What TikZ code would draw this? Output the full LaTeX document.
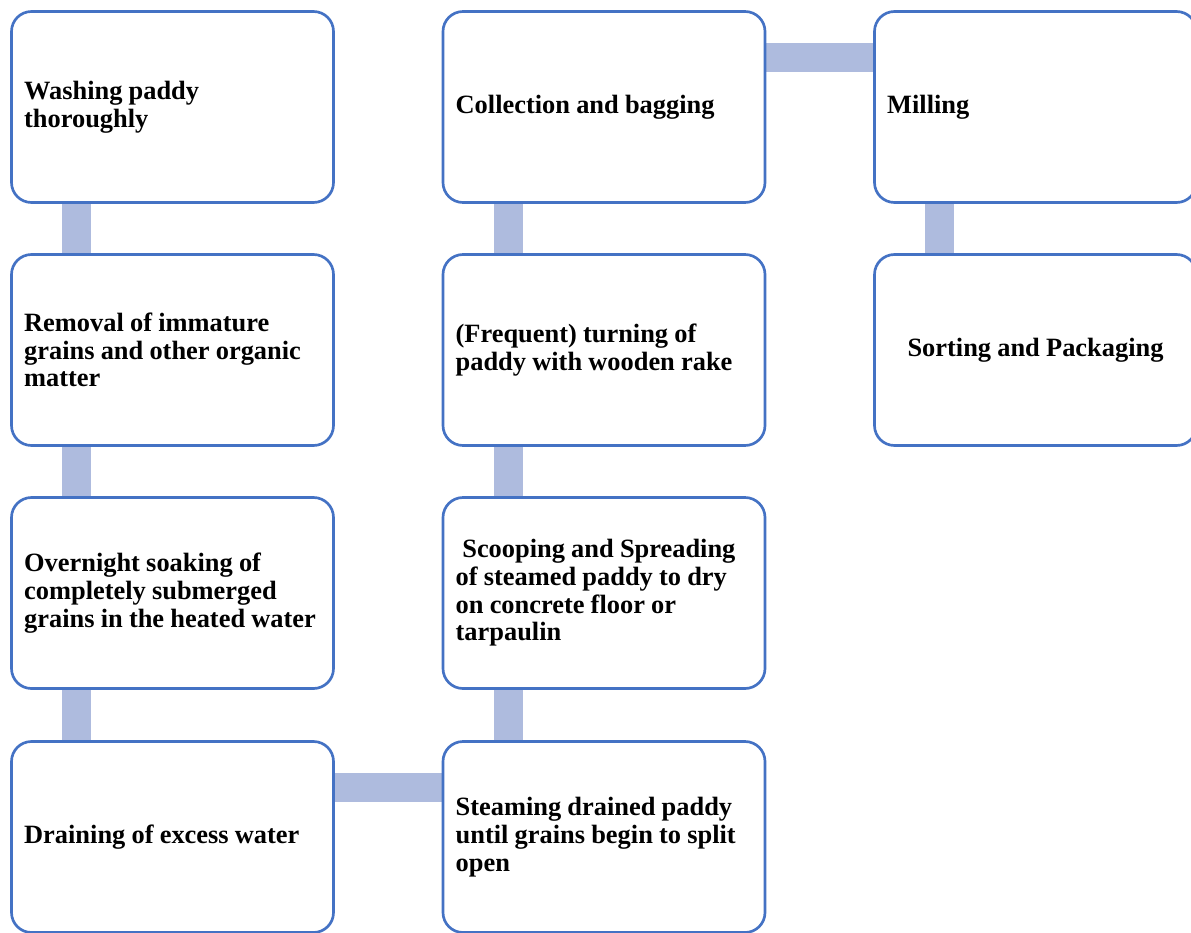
\documentclass[tikz,border=0pt]{standalone}
\usepackage{fontspec}
\setmainfont{Liberation Serif}
\usetikzlibrary{backgrounds}
\definecolor{boxline}{RGB}{68,114,196}
\definecolor{linkfill}{RGB}{174,187,222}
\hyphenpenalty=10000

\begin{document}
\begin{tikzpicture}[
    x=0.75pt, y=-0.75pt,
    stage/.style={draw=boxline, line width=2pt, fill=white, rounded corners=15pt,
                  minimum width=241.5pt, minimum height=143.25pt,
                  text width=222.5pt, align=left,
                  font=\fontsize{19.8pt}{20.8pt}\selectfont\bfseries,
                  execute at begin node={\spaceskip=0.235em\relax}},
    link/.style={draw=linkfill, line width=21.75pt}
]
\useasboundingbox (0,0) rectangle (1191,932);

\node[stage] (wash)    at (172.5,107) {Washing paddy\\thoroughly};
\node[stage] (remove)  at (172.5,350) {Removal of immature\\grains and other organic\\matter};
\node[stage] (soak)    at (172.5,593) {Overnight soaking of\\completely submerged\\grains in the heated water};
\node[stage] (drain)   at (172.5,837) {Draining of excess water};
\node[stage] (steam)   at (604,837)   {Steaming drained paddy\\until grains begin to split\\open};
\node[stage] (spread)  at (604,593)   {\hspace*{5pt}Scooping and Spreading\\of steamed paddy to dry\\on concrete floor or\\tarpaulin};
\node[stage] (turn)    at (604,350)   {(Frequent) turning of\\paddy with wooden rake};
\node[stage] (collect) at (604,107)   {Collection and bagging};
\node[stage] (mill)    at (1035.5,107) {Milling};
\node[stage, align=center] (sort) at (1035.5,350) {Sorting and Packaging};

\begin{scope}[on background layer]
\draw[link] ([xshift=-72pt]wash.south)   -- ([xshift=-72pt]remove.north);
\draw[link] ([xshift=-72pt]remove.south) -- ([xshift=-72pt]soak.north);
\draw[link] ([xshift=-72pt]soak.south)   -- ([xshift=-72pt]drain.north);
\draw[link] ([yshift=37.5pt]drain.east)  -- ([yshift=37.5pt]steam.west);
\draw[link] ([xshift=-72pt]steam.north)  -- ([xshift=-72pt]spread.south);
\draw[link] ([xshift=-72pt]spread.north) -- ([xshift=-72pt]turn.south);
\draw[link] ([xshift=-72pt]turn.north)   -- ([xshift=-72pt]collect.south);
\draw[link] ([yshift=37.5pt]collect.east) -- ([yshift=37.5pt]mill.west);
\draw[link] ([xshift=-72pt]mill.south)   -- ([xshift=-72pt]sort.north);
\end{scope}

\end{tikzpicture}
\end{document}
